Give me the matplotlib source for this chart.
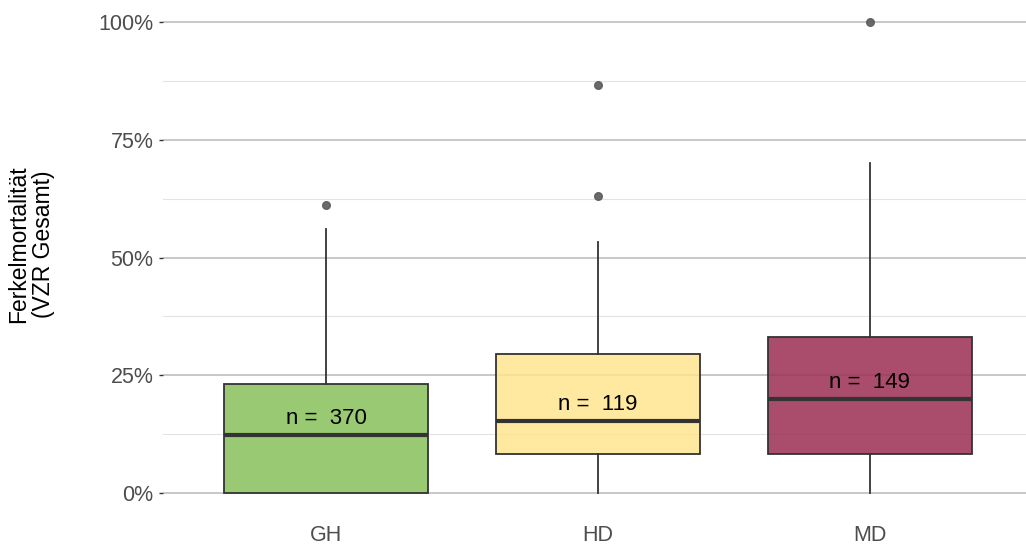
import matplotlib
matplotlib.use("Agg")
import matplotlib.pyplot as plt
from matplotlib.ticker import FixedLocator, FuncFormatter

plt.rcParams['font.family'] = ['Liberation Sans', 'DejaVu Sans']

# Box statistics per group (share of piglet mortality)
groups = ["GH", "HD", "MD"]
counts = [370, 119, 149]
q1 = [0.0, 0.083, 0.083]
medians = [0.123, 0.153, 0.200]
q3 = [0.231, 0.295, 0.331]
whisker_low = [0.0, 0.0, 0.0]
whisker_high = [0.560, 0.533, 0.700]
outliers = [[0.611], [0.631, 0.866], [1.0]]
fill_colors = ["#87C059", "#FFE58F", "#9B2E54"]

fig = plt.figure(figsize=(10.26, 5.49), dpi=100)
ax = fig.add_axes([163 / 1026, 0.0592, 870 / 1026, 0.9435])

stats = []
for i, g in enumerate(groups):
    stats.append(dict(label=g, q1=q1[i], med=medians[i], q3=q3[i],
                      whislo=whisker_low[i], whishi=whisker_high[i],
                      fliers=outliers[i]))

positions = list(range(1, len(groups) + 1))
bp = ax.bxp(stats, positions=positions, widths=0.75, patch_artist=True,
            showcaps=False,
            boxprops=dict(edgecolor="#333333", linewidth=1.3),
            whiskerprops=dict(color="#333333", linewidth=1.3),
            medianprops=dict(color="#333333", linewidth=3.0),
            flierprops=dict(marker="o", markersize=5.5, markerfacecolor="#5a5a5a",
                            markeredgecolor="#5a5a5a", alpha=0.9, linestyle="none"),
            zorder=3)
for patch, c in zip(bp["boxes"], fill_colors):
    patch.set_facecolor(matplotlib.colors.to_rgba(c, 0.85))

# sample size labels just above the median
for x, m, n in zip(positions, medians, counts):
    ax.text(x, m + 0.035, f"n =  {n}", ha="center", va="center",
            fontsize=16, color="black", zorder=5)

ax.set_xlim(0.4, 3.6)
ax.set_ylim(-0.05, 1.05)
ax.yaxis.set_major_locator(FixedLocator([0, 0.25, 0.5, 0.75, 1.0]))
ax.yaxis.set_minor_locator(FixedLocator([0.125, 0.375, 0.625, 0.875]))
ax.yaxis.set_major_formatter(FuncFormatter(lambda v, p: f"{v * 100:.0f}%"))
ax.set_xticks(positions)
ax.set_xticklabels(groups)

ax.grid(axis="y", which="major", color="#C8C8C8", linewidth=1.4, zorder=0)
ax.grid(axis="y", which="minor", color="#E3E3E3", linewidth=0.8, zorder=0)
ax.grid(axis="x", visible=False)
for s in ax.spines.values():
    s.set_visible(False)

ax.tick_params(axis="y", which="major", length=3, width=1, color="#333333",
               labelsize=15.5, labelcolor="#4D4D4D", pad=4)
ax.tick_params(axis="y", which="minor", length=0)
ax.tick_params(axis="x", length=0, labelsize=15.5, labelcolor="#4D4D4D", pad=6)

fig.text(31 / 1026, 1 - 244 / 549, "Ferkelmortalität\n(VZR Gesamt)", rotation=90,
         ha="center", va="center", multialignment="center", fontsize=16.5,
         color="black", linespacing=1.1)

fig.savefig("out.png", dpi=100)
